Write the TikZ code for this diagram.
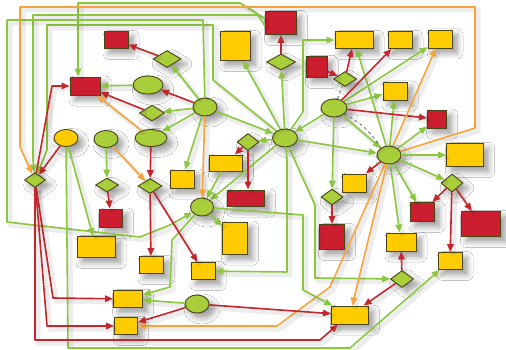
\documentclass[tikz,border=0pt]{standalone}
\usetikzlibrary{arrows.meta,shapes.geometric,shadows.blur,backgrounds}
\definecolor{gline}{HTML}{8CC63F}
\definecolor{rline}{HTML}{C1272D}
\definecolor{oline}{HTML}{F5A43C}
\definecolor{redfill}{HTML}{CC1E2E}
\definecolor{yelfill}{HTML}{FFCC00}
\definecolor{grnfill}{HTML}{A8CF3A}
\definecolor{rim}{HTML}{4A4418}
\begin{document}
\begin{tikzpicture}[x=1pt,y=-1pt,
  nd/.style={draw=rim, line width=0.9pt, inner sep=0pt,
    blur shadow={shadow xshift=5pt, shadow yshift=-5pt, shadow blur radius=6pt,
      shadow blur steps=8, shadow opacity=40}},
  sz/.style 2 args={minimum width=#1pt, minimum height=#2pt},
  rbox/.style={nd, rectangle, fill=redfill},
  ybox/.style={nd, rectangle, fill=yelfill},
  yell/.style={nd, ellipse, fill=yelfill},
  gell/.style={nd, ellipse, fill=grnfill},
  gdia/.style={nd, diamond, fill=grnfill},
  tip/.style={-{Triangle[length=8pt,width=6.5pt]}},
  haze/.style={preaction={draw=black, draw opacity=0.07, line width=5pt, arrows=-,
    transform canvas={shift={(3pt,-3pt)}}}},
  gl/.style={draw=gline, line width=1.6pt, tip, line join=round, haze},
  rl/.style={draw=rline, line width=1.6pt, tip, line join=round, haze},
  ol/.style={draw=oline, line width=1.6pt, tip, line join=round, haze},
  dl/.style={draw=black!60, line width=0.8pt, dashed}]
\useasboundingbox (0,0) rectangle (506,350);

% red boxes
\node[rbox, sz={31}{23}] (R1) at (281,23) {};
\node[rbox, sz={24}{17}] (R2) at (116,40) {};
\node[rbox, sz={30}{18}] (R3) at (85,86) {};
\node[rbox, sz={21}{21}] (R4) at (317,67) {};
\node[rbox, sz={19}{18}] (R5) at (437,119) {};
\node[rbox, sz={37}{16}] (R6) at (246,198) {};
\node[rbox, sz={23}{18}] (R7) at (111,218) {};
\node[rbox, sz={25}{25}] (R8) at (332,237) {};
\node[rbox, sz={24}{19}] (R9) at (422,212) {};
\node[rbox, sz={39}{25}] (R10) at (481,224) {};
% yellow boxes
\node[ybox, sz={30}{29}] (Y1) at (235,46) {};
\node[ybox, sz={38}{17}] (Y2) at (354,40) {};
\node[ybox, sz={24}{17}] (Y3) at (400,40) {};
\node[ybox, sz={24}{18}] (Y4) at (440,39) {};
\node[ybox, sz={24}{18}] (Y5) at (395,91) {};
\node[ybox, sz={37}{23}] (Y6) at (465,155) {};
\node[ybox, sz={33}{16}] (Y7) at (226,163) {};
\node[ybox, sz={24}{18}] (Y8) at (182,179) {};
\node[ybox, sz={24}{18}] (Y9) at (354,183) {};
\node[ybox, sz={25}{32}] (Y10) at (235,238) {};
\node[ybox, sz={38}{21}] (Y11) at (96,247) {};
\node[ybox, sz={24}{17}] (Y12) at (151,265) {};
\node[ybox, sz={24}{17}] (Y13) at (203,271) {};
\node[ybox, sz={30}{18}] (Y14) at (401,242) {};
\node[ybox, sz={24}{17}] (Y15) at (450,261) {};
\node[ybox, sz={29}{17}] (Y16) at (128,299) {};
\node[ybox, sz={23}{17}] (Y17) at (126,326) {};
\node[ybox, sz={37}{18}] (Y18) at (350,315) {};
\node[yell, sz={24}{17}] (Y19) at (66,138) {};
% green ellipses
\node[gell, sz={30}{18}] (E1) at (148,85) {};
\node[gell, sz={24}{17}] (E2) at (106,139) {};
\node[gell, sz={32}{17}] (E3) at (151,138) {};
\node[gell, sz={24}{18}] (E4) at (205,107) {};
\node[gell, sz={25}{18}] (E5) at (285,138) {};
\node[gell, sz={26}{18}] (E6) at (334,108) {};
\node[gell, sz={24}{18}] (E7) at (389,155) {};
\node[gell, sz={23}{18}] (E8) at (202,207) {};
\node[gell, sz={24}{18}] (E9) at (197,304) {};
% green diamonds
\node[gdia, sz={28}{17}] (D1) at (167,59) {};
\node[gdia, sz={25}{16}] (D2) at (152,113) {};
\node[gdia, sz={29}{16}] (D3) at (281,62) {};
\node[gdia, sz={22}{17}] (D4) at (248,142) {};
\node[gdia, sz={23}{15}] (D5) at (345,79) {};
\node[gdia, sz={21}{15}] (D6) at (35,180) {};
\node[gdia, sz={23}{14}] (D7) at (107,185) {};
\node[gdia, sz={24}{15}] (D8) at (150,186) {};
\node[gdia, sz={22}{16}] (D9) at (332,197) {};
\node[gdia, sz={22}{18}] (D10) at (452,183) {};
\node[gdia, sz={23}{17}] (D11) at (402,279) {};

\begin{scope}[on background layer]
\fill[white] (0,0) rectangle (506,350);
\end{scope}

% long routed connectors round the border
\draw[gl] (R1.165) -- (240,3) -- (78,3) -- ([xshift=-7pt]R3.north);
\draw[gl] (R1.190) -- (258,15) -- (33,15) -- (33,160) -- (D6);
\draw[gl] (E5) -- (213,80) -- (213,25) -- (47,25) -- (47,150) -- (D6);
\draw[gl] (E4) -- (203,20) -- (7,20) -- (7,222) -- (140,237) -- (170,225) -- (E8);
\draw[ol] (E7) -- (475,128) -- (475,7) -- (20,7) -- (20,147) -- (D6);
\draw[gl] (Y19) -- (68,348) -- (350,348) -- (Y15);
\draw[rl] (D6) -- (35,340) -- (320,340) -- ([xshift=-12pt]Y18.south);
\draw[ol] (E7) -- (330,287) -- (277,326) -- (Y17);

% green connectors
\draw[gl] (E5) -- (Y1);
\draw[gl] (E5) -- (D3);
\draw[gl] (E5) -- (303,112) -- (303,40) -- (Y2);
\draw[gl] (E6) -- (E5);
\draw[gl] (E4) -- (E5);
\draw[gl] (E5) -- (D4);
\draw[gl] (E5) -- (E8);
\draw[gl] (Y7) -- (E8);
\draw[gl] (E4) -- (D1);
\draw[gl] (E4) -- (D2);
\draw[gl] (E4) -- (E3);
\draw[gl] (E4) -- (Y8);
\draw[gl] (E1) -- (R3);
\draw[gl] (E2) -- (D7);
\draw[gl] (E8) -- (Y10);
\draw[gl] (E8) -- (172,240) -- (170,287) -- (Y16);
\draw[gl] (E9) -- (Y16);
\draw[gl] (E8) -- (303,215) -- (303,290) -- (Y18);
\draw[gl] (E5) -- (300,172) -- (315,205) -- (315,278) -- (D11);
\draw[gl] (E5) -- (287,160) -- (287,272) -- (Y13);
\draw[gl] (E6) -- (D9);
\draw[gl] (E6) -- (E7);
\draw[gl] (E5) -- (E7);
\draw[gl] (E6) -- (Y4);
\draw[gl] (E6) -- (Y5);
\draw[gl] (E7) -- (Y2);
\draw[gl] (E7) -- (Y5);
\draw[gl] (E7) -- (R5);
\draw[gl] (E7) -- (Y6);
\draw[gl] (E7) -- (D10);
\draw[gl] (E7) -- (R9);
\draw[gl] (E7) -- (Y14);
\draw[gl] (Y19) -- (Y11);

% red connectors
\draw[rl] (D1) -- (R2);
\draw[rl] (E4) -- (E1);
\draw[rl] (D2) -- (R3);
\draw[rl] (D6) -- (52,86) -- (R3);
\draw[rl] (Y19) -- (D6);
\draw[rl] (D6) -- (53,298) -- (Y16);
\draw[rl] (D6) -- (47,326) -- (Y17);
\draw[rl] (E3) -- (D8);
\draw[rl] (D8) -- (Y12);
\draw[rl] (D8) -- (Y13);
\draw[rl] (D7) -- (R7);
\draw[rl] (E9) -- (Y17);
\draw[rl] (E9) -- (Y18);
\draw[rl] (D4) -- (Y7);
\draw[rl] (D4) -- (R6.north -| D4);
\draw[rl] (D3) -- (R1);
\draw[rl] (R4) -- (D5);
\draw[rl] (D5) -- (Y2);
\draw[rl] (E6) -- (Y3);
\draw[rl] (E6) -- (R5);
\draw[rl] (E7) -- (Y9);
\draw[rl] (D9) -- (R8);
\draw[rl] (D10) -- (R9);
\draw[rl] (D10) -- (R10);
\draw[rl] (D10) -- (Y15);
\draw[rl] (D11) -- (Y14);
\draw[rl] (D11) -- (Y18);

% orange connectors
\draw[ol] (E3) -- (R3);
\draw[ol] (E2) -- (D8);
\draw[ol] (E4) -- (E8);
\draw[ol] (E7) -- (Y4);
\draw[ol] (E7) -- (Y18);

% dashed links
\draw[dl] (E6) -- (D5);
\draw[dl] (E6.-30) to[bend left=15] (E7.140);
\end{tikzpicture}
\end{document}
